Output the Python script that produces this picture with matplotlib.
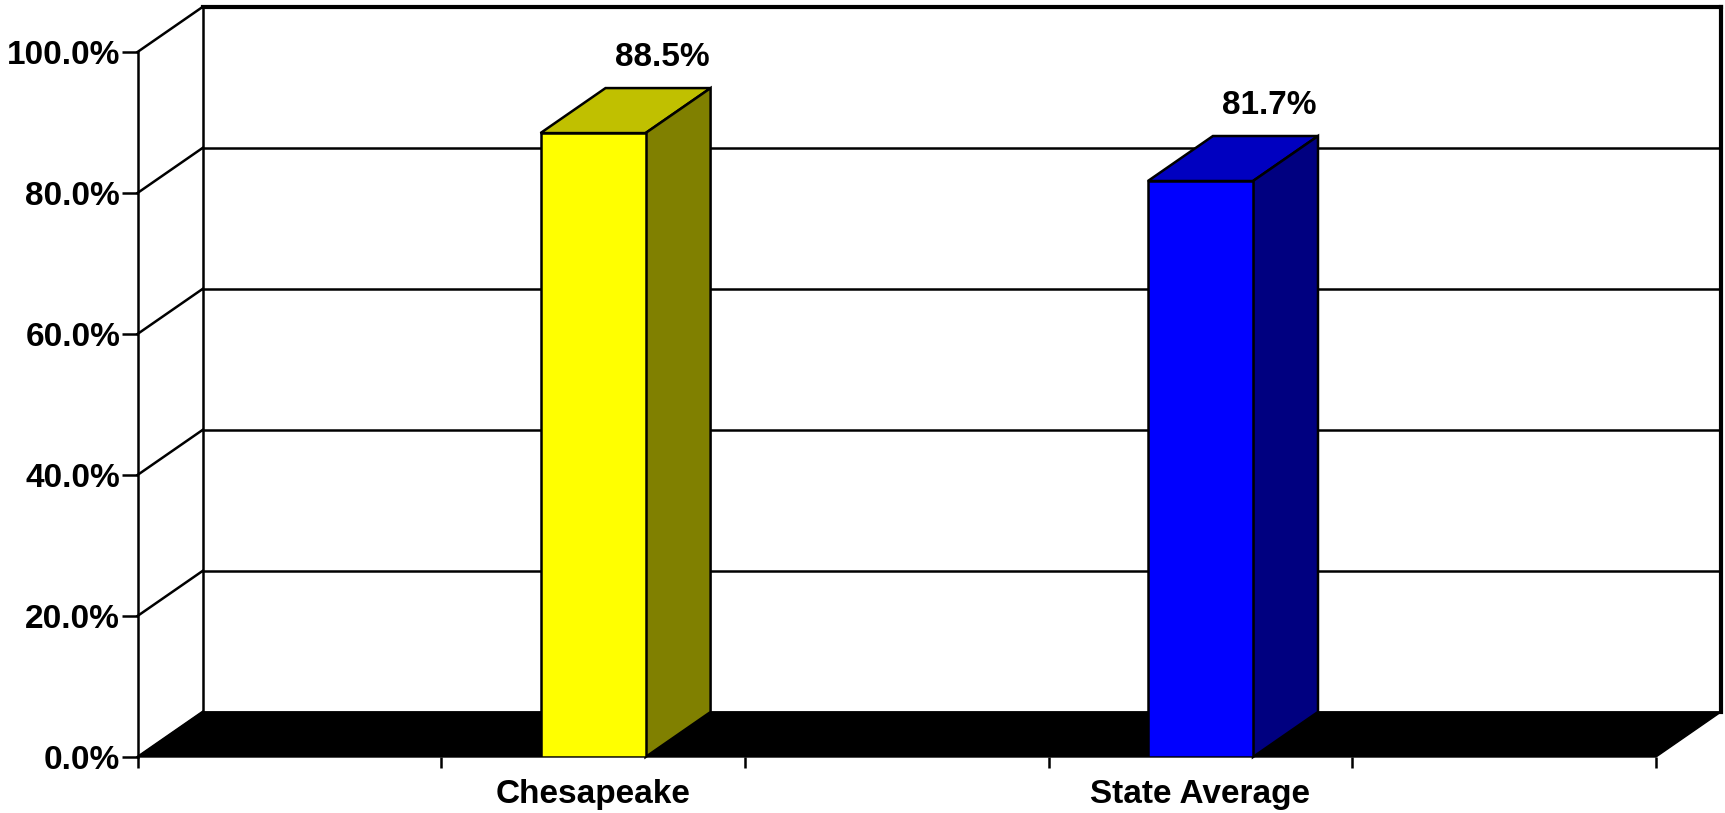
import numpy as np
import matplotlib
matplotlib.use("Agg")
import matplotlib.pyplot as plt
import matplotlib.transforms as mtransforms
from matplotlib.patches import Polygon
from matplotlib.lines import Line2D

categories = ["Chesapeake", "State Average"]
values = [88.5, 81.7]
slots = [1.5, 3.5]
front_colors = ["#FFFF00", "#0000FF"]
top_colors = ["#C0C000", "#0000C0"]
side_colors = ["#808000", "#000080"]
y_ticks = [0, 20, 40, 60, 80, 100]
y_tick_labels = ["0.0%", "20.0%", "40.0%", "60.0%", "80.0%", "100.0%"]

plt.rcParams['font.family'] = ['Liberation Sans', 'DejaVu Sans']
plt.rcParams['font.weight'] = 'bold'

fig = plt.figure(figsize=(17.25, 8.13), dpi=100)
ax = fig.add_axes([137.5 / 1725, 56 / 813, 1518.5 / 1725, 705 / 813])
ax.set_xlim(0, 5)
ax.set_ylim(0, 100)
for s in ax.spines.values():
    s.set_visible(False)

# depth offset of the 3d look (65 px right, 45 px up)
back = ax.transData + mtransforms.ScaledTranslation(0.65, 0.45, fig.dpi_scale_trans)


def to_disp(pts, tr):
    return tr.transform(np.array(pts, dtype=float))


fig.canvas.draw()

# back wall gridlines
for y in y_ticks:
    lw = 3 if y == 100 else 1.8
    ax.plot([0, 5], [y, y], color="black", lw=lw, transform=back, clip_on=False, zorder=1)
    p = np.vstack([to_disp([(0, y)], ax.transData), to_disp([(0, y)], back)])
    fig.add_artist(Line2D(p[:, 0], p[:, 1], color="black", lw=1.8, transform=None, zorder=1))
ax.plot([0, 0], [0, 100], color="black", lw=1.8, transform=back, clip_on=False, zorder=1)
ax.plot([5, 5], [0, 100], color="black", lw=3, transform=back, clip_on=False, zorder=1)
ax.plot([0, 0], [0, 100], color="black", lw=1.8, clip_on=False, zorder=1)

# floor
floor = np.vstack([to_disp([(0, 0), (5, 0)], ax.transData), to_disp([(5, 0), (0, 0)], back)])
ax.add_artist(Polygon(floor, closed=True, facecolor="black", edgecolor="black",
                      transform=None, zorder=2, clip_on=False))

# bars
width = 0.346
ax.bar(slots, values, width=width, color=front_colors, edgecolor="black", lw=1.8, zorder=4)
for x, v, tc, sc in zip(slots, values, top_colors, side_colors):
    l, r = x - width / 2, x + width / 2
    top = np.vstack([to_disp([(l, v), (r, v)], ax.transData), to_disp([(r, v), (l, v)], back)])
    side = np.vstack([to_disp([(r, 0), (r, v)], ax.transData), to_disp([(r, v), (r, 0)], back)])
    ax.add_artist(Polygon(top, closed=True, facecolor=tc, edgecolor="black", lw=1.8,
                          transform=None, zorder=3, clip_on=False))
    ax.add_artist(Polygon(side, closed=True, facecolor=sc, edgecolor="black", lw=1.8,
                          transform=None, zorder=3, clip_on=False))
    lab_tr = back + mtransforms.ScaledTranslation(0.04, 0.22, fig.dpi_scale_trans)
    ax.text(x, v, f"{v:.1f}%", transform=lab_tr, ha="center", va="baseline",
            fontsize=24, fontweight="bold", zorder=5)

# axes ticks
ax.set_yticks(y_ticks)
ax.set_yticklabels(y_tick_labels, fontsize=24, fontweight="bold")
ax.tick_params(axis="y", direction="out", length=11.5, width=1.8, pad=1)
ax.set_xticks(range(6))
ax.set_xticklabels([])
ax.tick_params(axis="x", which="major", direction="out", length=8, width=1.8)
ax.set_xticks(slots, minor=True)
ax.set_xticklabels(categories, minor=True, fontsize=24, fontweight="bold")
ax.tick_params(axis="x", which="minor", length=0, pad=16)

fig.savefig("out.png", dpi=100)
